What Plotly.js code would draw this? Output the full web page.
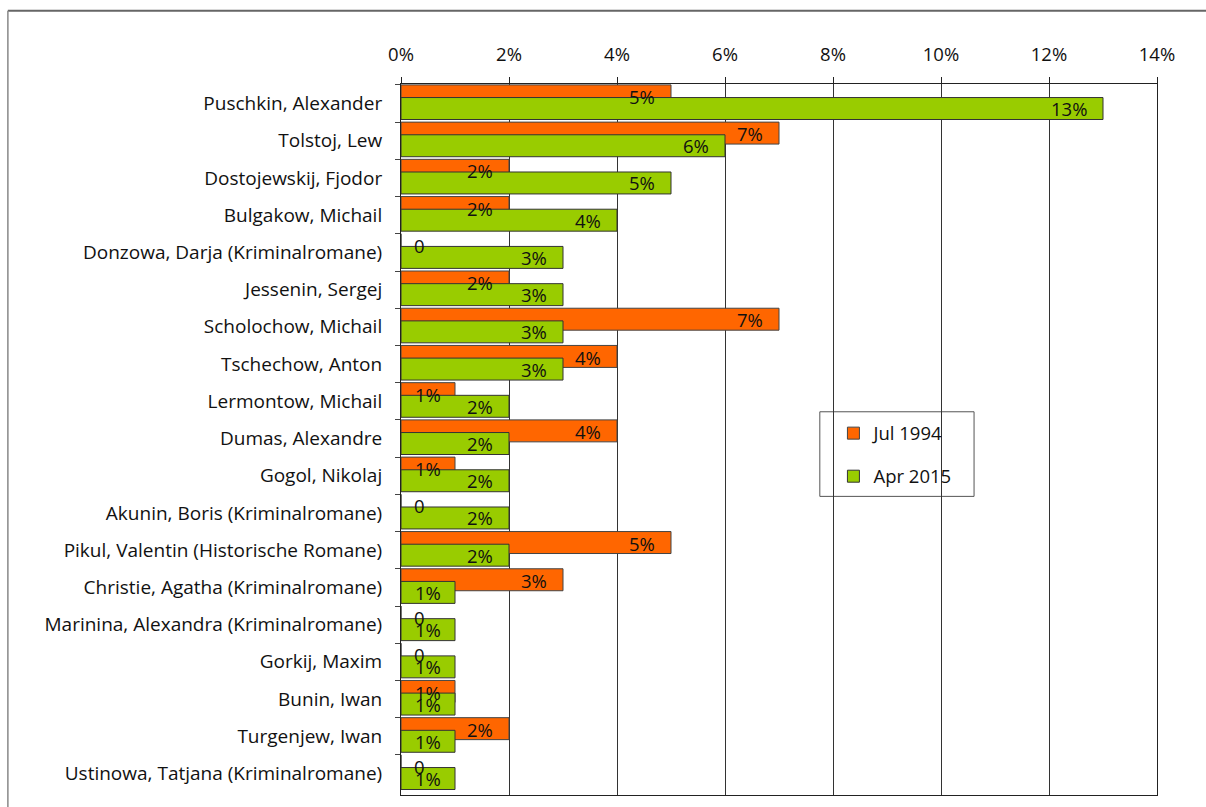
<!DOCTYPE html>
<html>
<head>
<meta charset="utf-8">
<script src="https://cdn.plot.ly/plotly-3.0.1.min.js"></script>
<style>
  html, body { margin: 0; padding: 0; background: #ffffff; }
  #chart { width: 1206px; height: 807px; }
</style>
</head>
<body>
<div id="chart"></div>
<script>
const authors = [
  "Puschkin, Alexander",
  "Tolstoj, Lew",
  "Dostojewskij, Fjodor",
  "Bulgakow, Michail",
  "Donzowa, Darja (Kriminalromane)",
  "Jessenin, Sergej",
  "Scholochow, Michail",
  "Tschechow, Anton",
  "Lermontow, Michail",
  "Dumas, Alexandre",
  "Gogol, Nikolaj",
  "Akunin, Boris (Kriminalromane)",
  "Pikul, Valentin (Historische Romane)",
  "Christie, Agatha (Kriminalromane)",
  "Marinina, Alexandra (Kriminalromane)",
  "Gorkij, Maxim",
  "Bunin, Iwan",
  "Turgenjew, Iwan",
  "Ustinowa, Tatjana (Kriminalromane)"
];
const jul1994 = [5, 7, 2, 2, 0, 2, 7, 4, 1, 4, 1, 0, 5, 3, 0, 0, 1, 2, 0];
const apr2015 = [13, 6, 5, 4, 3, 3, 3, 3, 2, 2, 2, 2, 2, 1, 1, 1, 1, 1, 1];
const seriesNames = ["Jul 1994", "Apr 2015"];
const xTickVals = [0, 2, 4, 6, 8, 10, 12, 14];
const xTickText = ["0%", "2%", "4%", "6%", "8%", "10%", "12%", "14%"];

const FONT = "'Open Sans', Lato, sans-serif";
const FS = 18.5;

const traces = [
  {
    type: "bar", orientation: "h", name: seriesNames[0],
    y: authors, x: jul1994,
    offset: -0.5, width: 0.59,
    marker: { color: "#FF6600", line: { color: "#444444", width: 1 } },
    legendgroup: "a", hoverinfo: "x+y"
  },
  {
    type: "bar", orientation: "h", name: seriesNames[1],
    y: authors, x: apr2015,
    offset: -0.16, width: 0.59,
    marker: { color: "#99CC00", line: { color: "#333333", width: 1 } },
    legendgroup: "b", hoverinfo: "x+y"
  }
];

function labelFor(v, cat, yshift) {
  const base = { y: cat, yref: "y", xref: "x", showarrow: false, yshift: yshift,
    font: { family: FONT, size: FS, color: "#111111" } };
  if (v === 0) return Object.assign(base, { x: 0, text: "0", xanchor: "left", xshift: 11 });
  if (v === 1) return Object.assign(base, { x: v / 2, text: v + "%", xanchor: "center" });
  return Object.assign(base, { x: v, text: v + "%", xanchor: "right", xshift: -14 });
}

const annotations = [];
authors.forEach((a, i) => {
  annotations.push(labelFor(jul1994[i], a, 7));
  annotations.push(labelFor(apr2015[i], a, -5));
});

const layout = {
  width: 1206, height: 807,
  margin: { l: 401, r: 49, t: 84, b: 12, pad: 0 },
  paper_bgcolor: "#ffffff", plot_bgcolor: "#ffffff",
  font: { family: FONT, size: FS, color: "#111111" },
  barmode: "overlay",
  showlegend: true,
  legend: {
    x: 0.572, y: 0.535, xanchor: "left", yanchor: "top",
    bgcolor: "rgba(0,0,0,0)", borderwidth: 0,
    tracegroupgap: 16, traceorder: "grouped", itemwidth: 30,
    font: { family: FONT, size: FS, color: "#111111" }
  },
  xaxis: {
    side: "top", range: [0, 14], tickvals: xTickVals, ticktext: xTickText,
    showgrid: true, gridcolor: "#333333", gridwidth: 1,
    showline: true, linecolor: "#222222", linewidth: 1, mirror: true,
    ticks: "outside", ticklen: 6, tickcolor: "#222222",
    ticklabelstandoff: 9, zeroline: false, fixedrange: true
  },
  yaxis: {
    type: "category", autorange: "reversed",
    showline: true, linecolor: "#222222", linewidth: 1, mirror: true,
    ticks: "outside", ticklen: 5, tickcolor: "#444444", tickson: "boundaries",
    showgrid: false, ticklabelstandoff: 14, fixedrange: true,
    tickfont: { family: FONT, size: 19, color: "#111111" }
  },
  annotations: annotations,
  shapes: [
    { type: "rect", xref: "paper", yref: "paper", x0: 0.554, x1: 0.758, y0: 0.42, y1: 0.539,
      line: { color: "#555555", width: 1 }, fillcolor: "#ffffff", layer: "below" },
    { type: "line", xref: "paper", yref: "paper", x0: -0.52, x1: 1.1, y0: 1.103, y1: 1.103,
      line: { color: "#666666", width: 2 } },
    { type: "line", xref: "paper", yref: "paper", x0: -0.52, x1: -0.52, y0: 1.103, y1: -0.05,
      line: { color: "#888888", width: 1.5 } }
  ]
};

Plotly.newPlot("chart", traces, layout, { displayModeBar: false, staticPlot: true });
</script>
</body>
</html>
